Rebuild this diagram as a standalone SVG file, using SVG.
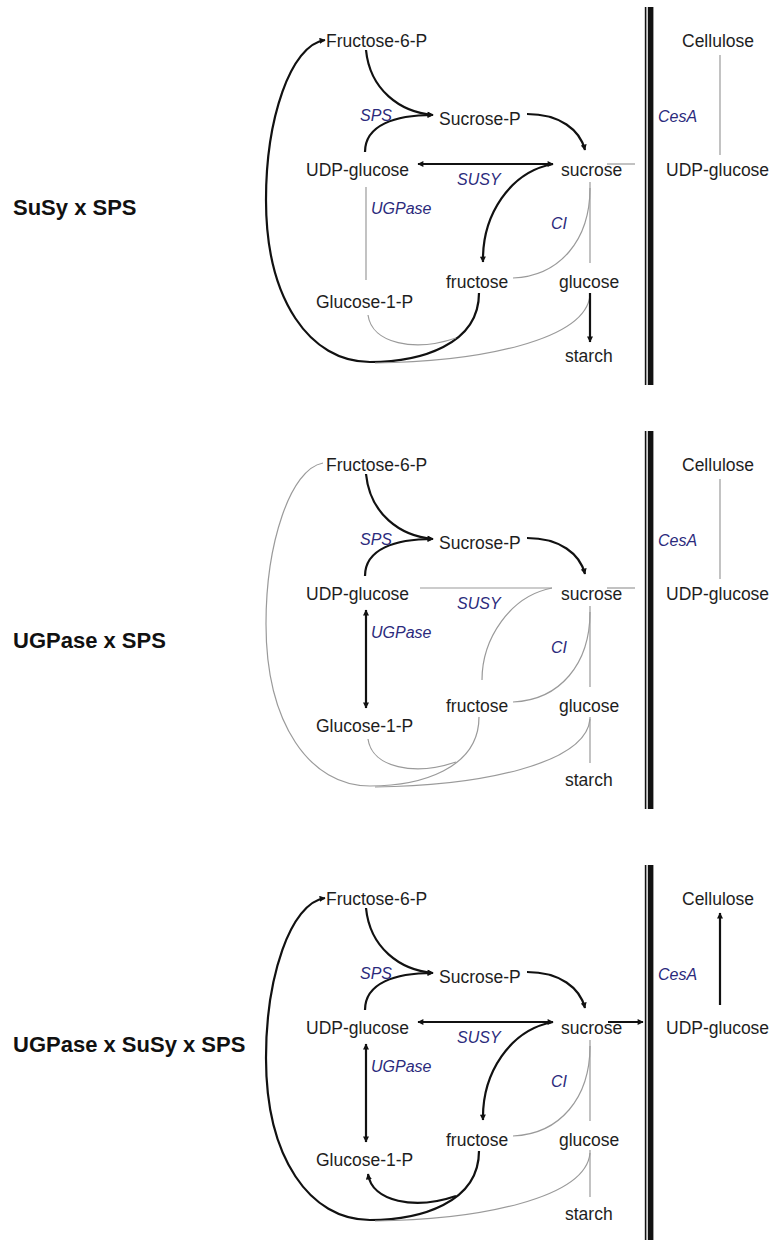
<svg xmlns="http://www.w3.org/2000/svg" width="781" height="1240" viewBox="0 0 781 1240">
  <style>
    .bg { fill: #ffffff; }
    .node { font-family: "Liberation Sans", Arial, sans-serif; font-size: 17.5px; fill: #1e1e1e; }
    .enz { font-family: "Liberation Sans", Arial, sans-serif; font-size: 16px; font-style: italic; fill: #2b2a7c; }
    .title { font-family: "Liberation Sans", Arial, sans-serif; font-size: 22px; font-weight: bold; fill: #111111; }
    .on { fill: none; stroke: #111111; stroke-width: 2.2; }
    .off { fill: none; stroke: #9a9a9a; stroke-width: 1.2; }
    .wall { fill: #111111; }
  </style>
  <defs>
    <marker id="ah" viewBox="0 0 10 10" refX="9" refY="5" markerWidth="7" markerHeight="6" markerUnits="userSpaceOnUse" orient="auto-start-reverse">
      <path d="M0,0 L10,5 L0,10 z" fill="#111111"/>
    </marker>
  </defs>
  <rect class="bg" x="0" y="0" width="781" height="1240"/>

  <!-- ===== Panel 1: SuSy x SPS ===== -->
  <g id="panel-1">
    <g id="p1-title"><text class="title" x="13" y="215">SuSy x SPS</text></g>
    <g id="p1-wall"><rect class="wall" x="644.8" y="7" width="1.6" height="378"/><rect class="wall" x="647.8" y="7" width="5.6" height="378"/></g>
    <g id="p1-connectors">
      <path class="on" d="M366 50 C370 90 400 112 433 115" marker-end="url(#ah)"/>
      <path class="on" d="M365 152 C365 125 395 115 433 115" marker-end="url(#ah)"/>
      <path class="on" d="M527 114 C560 114 580 130 585 150" marker-end="url(#ah)"/>
      <path class="on" d="M553 164 L418 164" marker-start="url(#ah)" marker-end="url(#ah)"/>
      <path class="on" d="M553 164 C510 172 482 215 483 262" marker-end="url(#ah)"/>
      <path class="off" d="M366 187 L366 280"/>
      <path class="off" d="M590 188 C590 240 560 276 513 278"/>
      <path class="off" d="M590 182 L590 263"/>
      <path class="off" d="M607 164 L635 164"/>
      <path class="on" d="M479 293 C479 345 420 362 370 362 C310 362 266 300 266 200 C266 120 290 45 325 40" marker-end="url(#ah)"/>
      <path class="off" d="M368 315 C372 344 415 352 456 338"/>
      <path class="off" d="M590 295 C586 340 480 362 375 363"/>
      <path class="on" d="M590 293 L590 342" marker-end="url(#ah)"/>
      <path class="off" d="M720 55 L720 155"/>
    </g>
    <g id="p1-fructose6p"><text class="node" x="326" y="47">Fructose-6-P</text></g>
    <g id="p1-sucrosep"><text class="node" x="439" y="125">Sucrose-P</text></g>
    <g id="p1-udpglucose"><text class="node" x="306" y="176">UDP-glucose</text></g>
    <g id="p1-sucrose"><text class="node" x="561" y="176">sucrose</text></g>
    <g id="p1-fructose"><text class="node" x="446" y="288">fructose</text></g>
    <g id="p1-glucose"><text class="node" x="559" y="288">glucose</text></g>
    <g id="p1-glucose1p"><text class="node" x="316" y="308">Glucose-1-P</text></g>
    <g id="p1-starch"><text class="node" x="565" y="362">starch</text></g>
    <g id="p1-cellulose"><text class="node" x="682" y="47">Cellulose</text></g>
    <g id="p1-udpglucose-wall"><text class="node" x="666" y="176">UDP-glucose</text></g>
    <g id="p1-enzymes">
      <text class="enz" x="360" y="121">SPS</text>
      <text class="enz" x="457" y="185">SUSY</text>
      <text class="enz" x="371" y="214">UGPase</text>
      <text class="enz" x="551" y="229">CI</text>
      <text class="enz" x="658" y="122">CesA</text>
    </g>
  </g>

  <!-- ===== Panel 2: UGPase x SPS ===== -->
  <g id="panel-2" transform="translate(0,424)">
    <g id="p2-title"><text class="title" x="13" y="224">UGPase x SPS</text></g>
    <g id="p2-wall"><rect class="wall" x="644.8" y="7" width="1.6" height="378"/><rect class="wall" x="647.8" y="7" width="5.6" height="378"/></g>
    <g id="p2-connectors">
      <path class="on" d="M366 50 C370 90 400 112 433 115" marker-end="url(#ah)"/>
      <path class="on" d="M365 152 C365 125 395 115 433 115" marker-end="url(#ah)"/>
      <path class="on" d="M527 114 C560 114 580 130 585 150" marker-end="url(#ah)"/>
      <path class="off" d="M420 164 L552 164"/>
      <path class="off" d="M552 164 C510 172 482 215 482 256"/>
      <path class="on" d="M366 186 L366 284" marker-start="url(#ah)" marker-end="url(#ah)"/>
      <path class="off" d="M590 188 C590 240 560 276 513 278"/>
      <path class="off" d="M590 182 L590 263"/>
      <path class="off" d="M607 164 L635 164"/>
      <path class="off" d="M479 293 C479 345 420 362 370 362 C310 362 266 300 266 200 C266 120 290 45 323 39"/>
      <path class="off" d="M368 315 C372 344 415 352 456 338"/>
      <path class="off" d="M590 295 C586 340 480 362 375 363"/>
      <path class="off" d="M590 293 L590 339"/>
      <path class="off" d="M720 55 L720 155"/>
    </g>
    <g id="p2-fructose6p"><text class="node" x="326" y="47">Fructose-6-P</text></g>
    <g id="p2-sucrosep"><text class="node" x="439" y="125">Sucrose-P</text></g>
    <g id="p2-udpglucose"><text class="node" x="306" y="176">UDP-glucose</text></g>
    <g id="p2-sucrose"><text class="node" x="561" y="176">sucrose</text></g>
    <g id="p2-fructose"><text class="node" x="446" y="288">fructose</text></g>
    <g id="p2-glucose"><text class="node" x="559" y="288">glucose</text></g>
    <g id="p2-glucose1p"><text class="node" x="316" y="308">Glucose-1-P</text></g>
    <g id="p2-starch"><text class="node" x="565" y="362">starch</text></g>
    <g id="p2-cellulose"><text class="node" x="682" y="47">Cellulose</text></g>
    <g id="p2-udpglucose-wall"><text class="node" x="666" y="176">UDP-glucose</text></g>
    <g id="p2-enzymes">
      <text class="enz" x="360" y="121">SPS</text>
      <text class="enz" x="457" y="185">SUSY</text>
      <text class="enz" x="371" y="214">UGPase</text>
      <text class="enz" x="551" y="229">CI</text>
      <text class="enz" x="658" y="122">CesA</text>
    </g>
  </g>

  <!-- ===== Panel 3: UGPase x SuSy x SPS ===== -->
  <g id="panel-3" transform="translate(0,858)">
    <g id="p3-title"><text class="title" x="13" y="194">UGPase x SuSy x SPS</text></g>
    <g id="p3-wall"><rect class="wall" x="644.8" y="7" width="1.6" height="378"/><rect class="wall" x="647.8" y="7" width="5.6" height="378"/></g>
    <g id="p3-connectors">
      <path class="on" d="M366 50 C370 90 400 112 433 115" marker-end="url(#ah)"/>
      <path class="on" d="M365 152 C365 125 395 115 433 115" marker-end="url(#ah)"/>
      <path class="on" d="M527 114 C560 114 580 130 585 150" marker-end="url(#ah)"/>
      <path class="on" d="M553 164 L418 164" marker-start="url(#ah)" marker-end="url(#ah)"/>
      <path class="on" d="M553 164 C510 172 482 215 483 262" marker-end="url(#ah)"/>
      <path class="on" d="M366 186 L366 284" marker-start="url(#ah)" marker-end="url(#ah)"/>
      <path class="off" d="M590 188 C590 240 560 276 513 278"/>
      <path class="off" d="M590 182 L590 263"/>
      <path class="on" d="M608 164 L643 164" marker-end="url(#ah)"/>
      <path class="on" d="M479 293 C479 345 420 362 370 362 C310 362 266 300 266 200 C266 120 290 45 325 40" marker-end="url(#ah)"/>
      <path class="on" d="M456 338 C415 352 372 344 368 316" marker-end="url(#ah)"/>
      <path class="off" d="M590 295 C586 340 480 362 375 363"/>
      <path class="off" d="M590 292 L590 339"/>
      <path class="on" d="M720 147 L720 55" marker-end="url(#ah)"/>
    </g>
    <g id="p3-fructose6p"><text class="node" x="326" y="47">Fructose-6-P</text></g>
    <g id="p3-sucrosep"><text class="node" x="439" y="125">Sucrose-P</text></g>
    <g id="p3-udpglucose"><text class="node" x="306" y="176">UDP-glucose</text></g>
    <g id="p3-sucrose"><text class="node" x="561" y="176">sucrose</text></g>
    <g id="p3-fructose"><text class="node" x="446" y="288">fructose</text></g>
    <g id="p3-glucose"><text class="node" x="559" y="288">glucose</text></g>
    <g id="p3-glucose1p"><text class="node" x="316" y="308">Glucose-1-P</text></g>
    <g id="p3-starch"><text class="node" x="565" y="362">starch</text></g>
    <g id="p3-cellulose"><text class="node" x="682" y="47">Cellulose</text></g>
    <g id="p3-udpglucose-wall"><text class="node" x="666" y="176">UDP-glucose</text></g>
    <g id="p3-enzymes">
      <text class="enz" x="360" y="121">SPS</text>
      <text class="enz" x="457" y="185">SUSY</text>
      <text class="enz" x="371" y="214">UGPase</text>
      <text class="enz" x="551" y="229">CI</text>
      <text class="enz" x="658" y="122">CesA</text>
    </g>
  </g>
</svg>
